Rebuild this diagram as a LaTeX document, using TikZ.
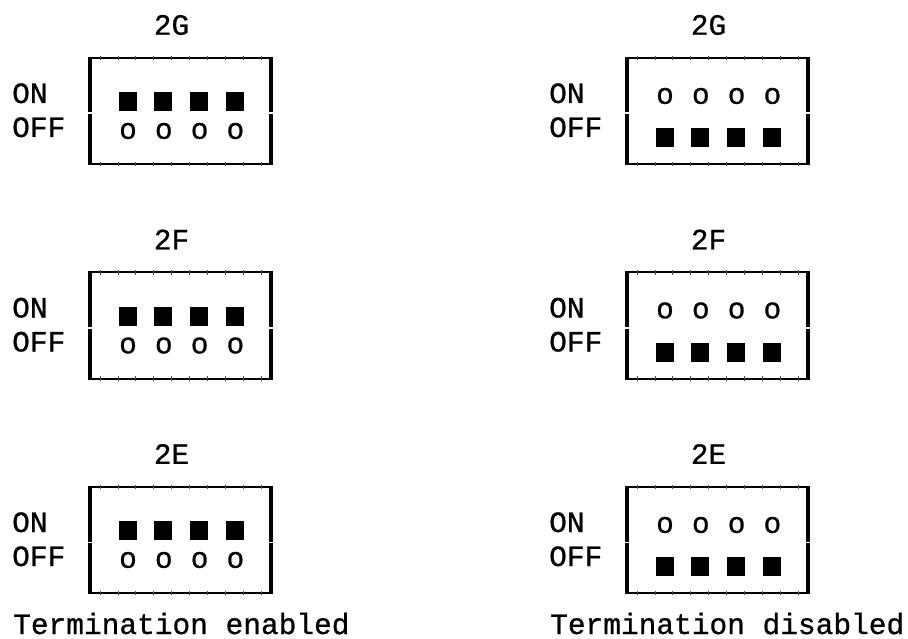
\documentclass[tikz,border=0pt]{standalone}
\usepackage{fontspec}
\newfontfamily\monof[FakeBold=0.8]{Liberation Mono}
\usetikzlibrary{calc}
\newcommand\dipblock[5]{%
  \begin{scope}[shift={(#2,#3)}]
    \node[txt] (#1lab) at (171.5,25) {#4};
    \coordinate (#1tl) at (90,58);
    \coordinate (#1tr) at (271,58);
    \coordinate (#1bl) at (90,164);
    \coordinate (#1br) at (271,164);
    \draw[frameH] (#1tl) -- (#1tr);
    \draw[frameH] (#1bl) -- (#1br);
    \foreach \k in {0,...,9}{
      \draw[tickmark] ($(#1tl)+(10+17.9*\k,-2.2)$) -- ++(0,4.4);
      \draw[tickmark] ($(#1bl)+(10+17.9*\k,-2.2)$) -- ++(0,4.4);
    }
    \draw[frameV] ($(#1tl)+(0,-1)$) -- ($(#1tl)+(0,54.5)$);
    \draw[frameV] ($(#1tl)+(0,56)$) -- ($(#1bl)+(0,1)$);
    \draw[frameV] ($(#1tr)+(0,-1)$) -- ($(#1tr)+(0,54.5)$);
    \draw[frameV] ($(#1tr)+(0,56)$) -- ($(#1br)+(0,1)$);
    \node[txt, anchor=base west] (#1on) at (12,103) {ON};
    \node[txt, anchor=base west] (#1off) at (12,137) {OFF};
    \foreach \i in {0,...,3}{
      \ifnum#5=1
        \node[sq] (#1s\i) at (127.5+35.8*\i,101.5) {};
        \node[txt] (#1o\i) at (128+35.8*\i,131) {o};
      \else
        \node[txt] (#1o\i) at (128+35.8*\i,96) {o};
        \node[sq] (#1s\i) at (127.5+35.8*\i,137.5) {};
      \fi
    }
  \end{scope}}
\begin{document}
\begin{tikzpicture}[x=1pt,y=-1pt,
  txt/.style={font=\monof\fontsize{29.5}{30}\selectfont, inner sep=0pt},
  frameH/.style={line width=2pt},
  frameV/.style={line width=4pt},
  tickmark/.style={line width=0.7pt, black!70},
  sq/.style={fill=black, draw=none, minimum width=18pt, minimum height=19pt, inner sep=0pt},
]
\useasboundingbox (0,0) rectangle (908,639);
\dipblock{lg}{0}{0}{2G}{1}
\dipblock{lf}{0}{214.5}{2F}{1}
\dipblock{le}{0}{429}{2E}{1}
\dipblock{rg}{537}{0}{2G}{0}
\dipblock{rf}{537}{214.5}{2F}{0}
\dipblock{re}{537}{429}{2E}{0}
\node[txt, anchor=base west] (en) at (13,634) {Termination enabled};
\node[txt, anchor=base west] (dis) at (550,634) {Termination disabled};
\end{tikzpicture}
\end{document}
